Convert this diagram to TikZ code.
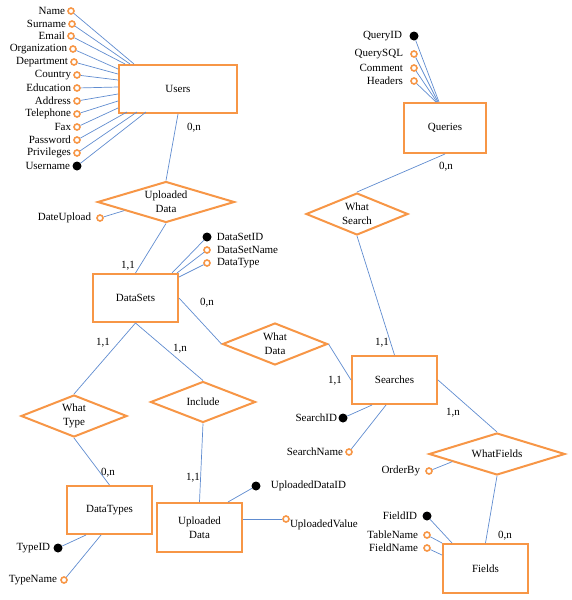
\documentclass[tikz,border=0pt]{standalone}
\usepackage{fontspec}
\setmainfont{Liberation Serif}
\usetikzlibrary{shapes.geometric,calc}
\definecolor{eorange}{RGB}{247,150,70}
\definecolor{eblue}{RGB}{96,140,208}
\tikzset{
  ent/.style={draw=eorange, line width=2pt, fill=white, inner sep=0pt, align=center},
  rel/.style={diamond, draw=eorange, line width=2pt, fill=white, inner sep=0pt, aspect=2.5, align=center},
  attr/.style={circle, draw=eorange, line width=1.6pt, fill=white, minimum size=6pt, inner sep=0pt},
  keyattr/.style={circle, fill=black, minimum size=9pt, inner sep=0pt},
  conn/.style={draw=eblue, line width=0.7pt},
  lbl/.style={inner sep=0pt, font=\fontsize{11}{14}\selectfont},
  card/.style={inner sep=0pt, font=\fontsize{11}{14}\selectfont},
}
\begin{document}
\begin{tikzpicture}[x=1pt,y=-1pt,font=\fontsize{11}{14}\selectfont]
\useasboundingbox (0,0) rectangle (571,600);
% entities
\node[ent, minimum width=118pt, minimum height=48pt] (users) at (178,89) {Users};
\node[ent, minimum width=85pt, minimum height=48pt] (ds) at (135.5,298) {DataSets};
\node[ent, minimum width=85pt, minimum height=48pt] (searches) at (394.5,380) {Searches};
\node[ent, minimum width=82pt, minimum height=50pt] (queries) at (445,128) {Queries};
\node[ent, minimum width=85pt, minimum height=49pt] (fields) at (485.5,568.5) {Fields};
\node[ent, minimum width=85pt, minimum height=49pt] (upd) at (199.5,527.5) {Uploaded\\Data};
\node[ent, minimum width=85pt, minimum height=48pt] (dtypes) at (109.5,510) {DataTypes};
% relationships
\node[rel, minimum width=137pt, minimum height=41pt] (rUp) at (166,202) {Uploaded\\Data};
\node[rel, minimum width=105pt, minimum height=42pt] (wData) at (275,344) {What\\Data};
\node[rel, minimum width=102pt, minimum height=42pt] (wSearch) at (357,214) {What\\Search};
\node[rel, minimum width=136pt, minimum height=42pt] (wFields) at (497,454) {WhatFields};
\node[rel, minimum width=105pt, minimum height=41pt] (incl) at (203,402) {Include};
\node[rel, minimum width=106pt, minimum height=42pt] (wType) at (74,416) {What\\Type};
% relationship connectors
\draw[conn] (users.south) -- (rUp.north);
\draw[conn] (rUp.south) -- (ds.north);
\draw[conn] (ds.east) -- (wData.west);
\draw[conn] (wData.east) -- (searches.west);
\draw[conn] (searches.north) -- (wSearch.south);
\draw[conn] (wSearch.north) -- (queries.south);
\draw[conn] (searches.east) -- (wFields.north);
\draw[conn] (wFields.south) -- (fields.north);
\draw[conn] (ds.south) -- (wType.north);
\draw[conn] (ds.south) -- (incl.north);
\draw[conn] (wType.south) -- (dtypes.north);
\draw[conn] (incl.south) -- (upd.north);
% cardinalities
\node[card] (c1) at (194,128) {0,n};
\node[card] (c2) at (128,266) {1,1};
\node[card] (c3) at (207,303) {0,n};
\node[card] (c4) at (335,381) {1,1};
\node[card] (c5) at (382,343) {1,1};
\node[card] (c6) at (446,167) {0,n};
\node[card] (c7) at (453,413) {1,n};
\node[card] (c8) at (505,536) {0,n};
\node[card] (c9) at (103,343) {1,1};
\node[card] (c10) at (180,349) {1,n};
\node[card] (c11) at (108,473) {0,n};
\node[card] (c12) at (193,478) {1,1};
% Users attributes
\foreach \nm/\x/\y/\tx/\ty/\st in {
  Name/71/11/135/65/attr,
  Surname/72/24/131/65/attr,
  Email/71/36/126/65/attr,
  Organization/73/49/119/70/attr,
  Department/74/62/119/75/attr,
  Country/77/75/119/81/attr,
  Education/77/88/119/88/attr,
  Address/77/101/119/95/attr,
  Telephone/77/114/119/102/attr,
  Fax/77/127/119/109/attr,
  Password/77/140/128/113/attr,
  Privileges/77/153/138/113/attr,
  Username/77/166/147/113/keyattr}{
  \node[\st] (a\nm) at (\x,\y) {};
  \node[lbl, anchor=east] (l\nm) at ($(a\nm.west)+(-2,0)$) {\nm};
  \draw[conn] (a\nm) -- ($(users.north west)+(\tx-119,\ty-65)$);
}
% Uploaded Data relationship attribute
\node[attr] (aDateUpload) at (100,218) {};
\node[lbl, anchor=east] (lDateUpload) at ($(aDateUpload.west)+(-5,0)$) {DateUpload};
\draw[conn] (aDateUpload) -- ($(rUp.west)!0.4!(rUp.south)$);
% DataSets attributes
\node[keyattr] (aDataSetID) at (207,237) {};
\node[attr] (aDataSetName) at (207,250) {};
\node[attr] (aDataType) at (207,263) {};
\node[lbl, anchor=west] (lDataSetID) at ($(aDataSetID.east)+(5,0)$) {DataSetID};
\node[lbl, anchor=west] (lDataSetName) at ($(aDataSetName.east)+(6,0)$) {DataSetName};
\node[lbl, anchor=west] (lDataType) at ($(aDataType.east)+(6,0)$) {DataType};
\draw[conn] (aDataSetID) -- ($(ds.north east)+(-7,0)$);
\draw[conn] (aDataSetName) -- ($(ds.north east)+(-2,0)$);
\draw[conn] (aDataType) -- ($(ds.north east)+(0,4)$);
% Queries attributes
\node[keyattr] (aQueryID) at (414,36) {};
\node[attr] (aQuerySQL) at (414,54) {};
\node[attr] (aComment) at (414,68) {};
\node[attr] (aHeaders) at (414,81) {};
\node[lbl, anchor=east] (lQueryID) at ($(aQueryID.west)+(-7,0)$) {QueryID};
\node[lbl, anchor=east] (lQuerySQL) at ($(aQuerySQL.west)+(-7,0)$) {QuerySQL};
\node[lbl, anchor=east] (lComment) at ($(aComment.west)+(-7,0)$) {Comment};
\node[lbl, anchor=east] (lHeaders) at ($(aHeaders.west)+(-7,0)$) {Headers};
\draw[conn] (aQueryID) -- ($(queries.north west)+(36,0)$);
\draw[conn] (aQuerySQL) -- ($(queries.north west)+(35,0)$);
\draw[conn] (aComment) -- ($(queries.north west)+(34,0)$);
\draw[conn] (aHeaders) -- ($(queries.north west)+(33,0)$);
% Searches attributes
\node[keyattr] (aSearchID) at (343,418) {};
\node[attr] (aSearchName) at (349,452) {};
\node[lbl, anchor=east] (lSearchID) at ($(aSearchID.west)+(-1,0)$) {SearchID};
\node[lbl, anchor=east] (lSearchName) at ($(aSearchName.west)+(-2,0)$) {SearchName};
\draw[conn] (aSearchID) -- ($(searches.south west)+(21,0)$);
\draw[conn] (aSearchName) -- ($(searches.south west)+(35,0)$);
% WhatFields attribute
\node[attr] (aOrderBy) at (429,471) {};
\node[lbl, anchor=east] (lOrderBy) at ($(aOrderBy.west)+(-5,0)$) {OrderBy};
\draw[conn] (aOrderBy) -- ($(wFields.west)!0.35!(wFields.south)$);
% Fields attributes
\node[keyattr] (aFieldID) at (427,516) {};
\node[attr] (aTableName) at (427,535) {};
\node[attr] (aFieldName) at (427,548) {};
\node[lbl, anchor=east] (lFieldID) at ($(aFieldID.west)+(-5,0)$) {FieldID};
\node[lbl, anchor=east] (lTableName) at ($(aTableName.west)+(-5,0)$) {TableName};
\node[lbl, anchor=east] (lFieldName) at ($(aFieldName.west)+(-5,0)$) {FieldName};
\draw[conn] (aFieldID) -- ($(fields.north west)+(10,0)$);
\draw[conn] (aTableName) -- (fields.north west);
\draw[conn] (aFieldName) -- ($(fields.north west)+(0,12)$);
% Uploaded Data attributes
\node[keyattr] (aUploadedDataID) at (256,486) {};
\node[attr] (aUploadedValue) at (286,519) {};
\node[lbl, anchor=west] (lUploadedDataID) at ($(aUploadedDataID.east)+(10,0)$) {UploadedDataID};
\node[lbl, anchor=west] (lUploadedValue) at ($(aUploadedValue.east)+(0,6)$) {UploadedValue};
\draw[conn] (aUploadedDataID) -- ($(upd.north east)+(-15,0)$);
\draw[conn] (aUploadedValue) -- (upd.east |- aUploadedValue);
% DataTypes attributes
\node[keyattr] (aTypeID) at (58,548) {};
\node[attr] (aTypeName) at (64,580) {};
\node[lbl, anchor=east] (lTypeID) at ($(aTypeID.west)+(-3,0)$) {TypeID};
\node[lbl, anchor=east] (lTypeName) at ($(aTypeName.west)+(-3,0)$) {TypeName};
\draw[conn] (aTypeID) -- ($(dtypes.south west)+(20,0)$);
\draw[conn] (aTypeName) -- ($(dtypes.south west)+(35,0)$);
\end{tikzpicture}
\end{document}
